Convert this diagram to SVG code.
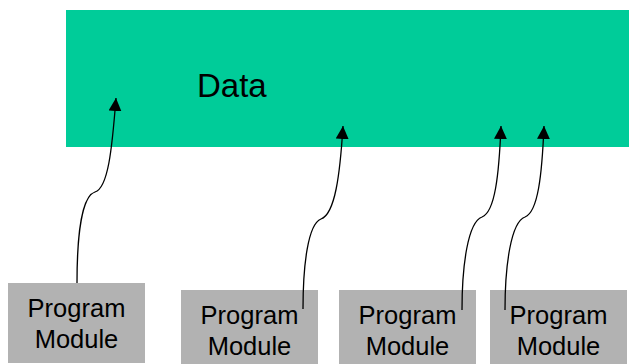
<svg xmlns="http://www.w3.org/2000/svg" width="629" height="364" viewBox="0 0 629 364">
  <style>
    .data { fill: #00CC99; }
    .module { fill: #B2B2B2; }
    .label { font-family: "Liberation Sans", Arial, sans-serif; fill: #000000; text-anchor: middle; }
    .mod-text { font-size: 25.5px; }
    .data-text { font-size: 33px; text-anchor: start; }
    .link { fill: none; stroke: #000000; stroke-width: 1.3; marker-end: url(#arrow); }
  </style>
  <defs>
    <marker id="arrow" viewBox="0 0 13 13" refX="13" refY="6.5" markerWidth="13" markerHeight="13" markerUnits="userSpaceOnUse" orient="auto">
      <path d="M0,0 L13,6.5 L0,13 Z" fill="#000000"/>
    </marker>
  </defs>

  <rect width="629" height="364" fill="#FFFFFF"/>

  <!-- shared data store -->
  <g id="data">
    <rect class="data" x="66" y="10" width="563" height="137"/>
    <text class="label data-text" x="197" y="97">Data</text>
  </g>

  <!-- program modules -->
  <g id="module1">
    <rect class="module" x="8" y="283" width="137" height="80"/>
    <text class="label mod-text" x="76.5" y="317">Program</text>
    <text class="label mod-text" x="76.5" y="348">Module</text>
  </g>
  <g id="module2">
    <rect class="module" x="181" y="290" width="137" height="74"/>
    <text class="label mod-text" x="249.5" y="324">Program</text>
    <text class="label mod-text" x="249.5" y="355">Module</text>
  </g>
  <g id="module3">
    <rect class="module" x="339" y="290" width="137" height="74"/>
    <text class="label mod-text" x="407.5" y="324">Program</text>
    <text class="label mod-text" x="407.5" y="355">Module</text>
  </g>
  <g id="module4">
    <rect class="module" x="490" y="290" width="137" height="74"/>
    <text class="label mod-text" x="558.5" y="324">Program</text>
    <text class="label mod-text" x="558.5" y="355">Module</text>
  </g>

  <!-- access links from each module into the data -->
  <g id="connectors">
    <path class="link" d="M77,283 C77,235 82,196 95,192 C108,188 112,150 116,98"/>
    <path class="link" d="M303,309 C303,265 308,224 321,219 C335,214 340,175 343,126"/>
    <path class="link" d="M462,310 C462,265 468,222 482,217 C495,212 499,175 501,126"/>
    <path class="link" d="M505,310 C505,265 511,222 525,217 C538,212 542,175 544,126"/>
  </g>
</svg>
